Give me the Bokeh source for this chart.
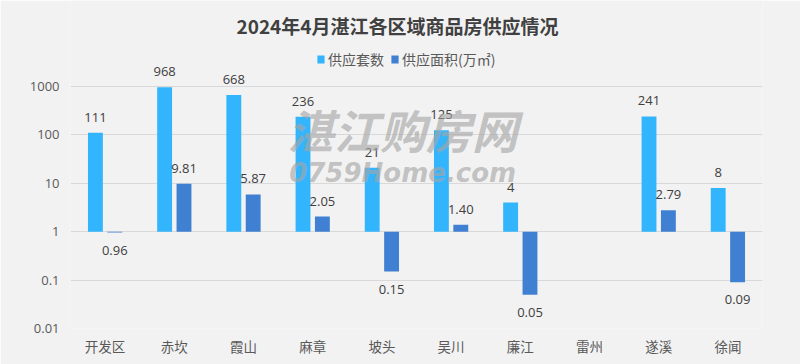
from bokeh.plotting import figure
from bokeh.models import (ColumnDataSource, FactorRange, Range1d, FixedTicker,
                          CustomJSTickFormatter, Legend, LegendItem, Label)
from bokeh.transform import dodge
from bokeh.embed import file_html
from bokeh.resources import INLINE

categories = ["开发区", "赤坎", "霞山", "麻章", "坡头", "吴川", "廉江", "雷州", "遂溪", "徐闻"]
units = [111, 968, 668, 236, 21, 125, 4, None, 241, 8]
area = [0.96, 9.81, 5.87, 2.05, 0.15, 1.40, 0.05, None, 2.79, 0.09]
y_ticks = [0.01, 0.1, 1, 10, 100, 1000]

LIGHT = "#33B5FD"
DARK = "#4080D2"
CJK = "Noto Sans CJK SC"
NUM = "Open Sans"

def build(vals, fmt):
    c, v, t = [], [], []
    for cat, val in zip(categories, vals):
        if val is None:
            continue
        c.append(cat); v.append(val); t.append(fmt(val))
    return ColumnDataSource(dict(cat=c, v=v, t=t))

src_u = build(units, lambda x: f"{x:d}")
src_a = build(area, lambda x: f"{x:.2f}")

W, H = 800, 364
LEFT, RIGHT, BOTTOM = 70, 38, 36
FRAME_H = H - BOTTOM
TOP_GAP = 86          # pixels above the 1000 gridline for title + legend
decade = (FRAME_H - TOP_GAP) / 5.0
y_top = 1000 * 10 ** (TOP_GAP / decade)

p = figure(x_range=FactorRange(*categories), y_axis_type="log",
           y_range=Range1d(0.01, y_top), width=W, height=H,
           output_backend="svg", toolbar_location=None,
           background_fill_color="#f2f2f2", border_fill_color="#f2f2f2",
           outline_line_color=None,
           min_border_left=LEFT, min_border_right=RIGHT, min_border_bottom=BOTTOM,
           min_border_top=0)

off = 0.14
bw = 0.215
r1 = p.vbar(x=dodge("cat", -off, range=p.x_range), top="v", bottom=1, width=bw,
            source=src_u, fill_color=LIGHT, line_color=None)
r2 = p.vbar(x=dodge("cat", off, range=p.x_range), top="v", bottom=1, width=bw,
            source=src_a, fill_color=DARK, line_color=None)

for src, dx in ((src_u, -off), (src_a, off)):
    d = src.data
    up = dict(cat=[], v=[], t=[])
    dn = dict(cat=[], v=[], t=[])
    for c, v, t in zip(d["cat"], d["v"], d["t"]):
        tgt = up if v >= 1 else dn
        tgt["cat"].append(c); tgt["v"].append(v); tgt["t"].append(t)
    p.text(x=dodge("cat", dx, range=p.x_range), y="v", text="t",
           source=ColumnDataSource(up), text_align="center", text_baseline="bottom",
           y_offset=-11, text_font_size="13px", text_font={"value": NUM},
           text_color="#404040")
    p.text(x=dodge("cat", dx, range=p.x_range), y="v", text="t",
           source=ColumnDataSource(dn), text_align="center", text_baseline="top",
           y_offset=13, text_font_size="13px", text_font={"value": NUM},
           text_color="#404040")

# watermark
wm1 = Label(x=4.8, y=130, text="湛江购房网", text_align="center", text_baseline="middle",
            text_font=CJK, text_font_size="46px", text_font_style="bold italic",
            text_color="#a6a6a6", text_alpha=0.65)
wm2 = Label(x=4.8, y=16.5, text="0759Home.com", text_align="center", text_baseline="middle",
            text_font="DejaVu Sans", text_font_size="26px", text_font_style="bold italic",
            text_color="#a6a6a6", text_alpha=0.65)
p.add_layout(wm1)
p.add_layout(wm2)

# title (screen units, relative to the frame)
title = Label(x=327, y=FRAME_H - 25, x_units="screen", y_units="screen",
              text="2024年4月湛江各区域商品房供应情况", text_align="center",
              text_baseline="middle", text_font=CJK, text_font_size="19px",
              text_font_style="bold", text_color="#404040")
p.add_layout(title)

p.yaxis.ticker = FixedTicker(ticks=y_ticks)
p.yaxis.formatter = CustomJSTickFormatter(code="return tick.toString();")
p.ygrid.ticker = FixedTicker(ticks=y_ticks)
p.ygrid.grid_line_color = "#d9d9d9"
p.xgrid.grid_line_color = None
for ax in (p.xaxis, p.yaxis):
    ax.axis_line_color = None
    ax.major_tick_line_color = None
    ax.minor_tick_line_color = None
    ax.major_tick_out = 0
    ax.major_tick_in = 0
    ax.major_label_text_color = "#595959"
p.yaxis.major_label_text_font = NUM
p.yaxis.major_label_text_font_size = "13px"
p.yaxis.major_label_standoff = 11
p.xaxis.major_label_text_font = CJK
p.xaxis.major_label_text_font_size = "13.5px"
p.xaxis.major_label_standoff = 7

legend = Legend(items=[LegendItem(label="供应套数", renderers=[r1]),
                       LegendItem(label="供应面积(万㎡)", renderers=[r2])],
                orientation="horizontal", location=(246, FRAME_H - 60 - 9),
                background_fill_alpha=0, border_line_color=None,
                glyph_width=9, glyph_height=10, label_standoff=3, spacing=6,
                label_text_font=CJK, label_text_font_size="14px",
                label_text_color="#595959", padding=2, margin=0)
p.add_layout(legend)

open("out.html", "w").write(file_html(p, INLINE))
